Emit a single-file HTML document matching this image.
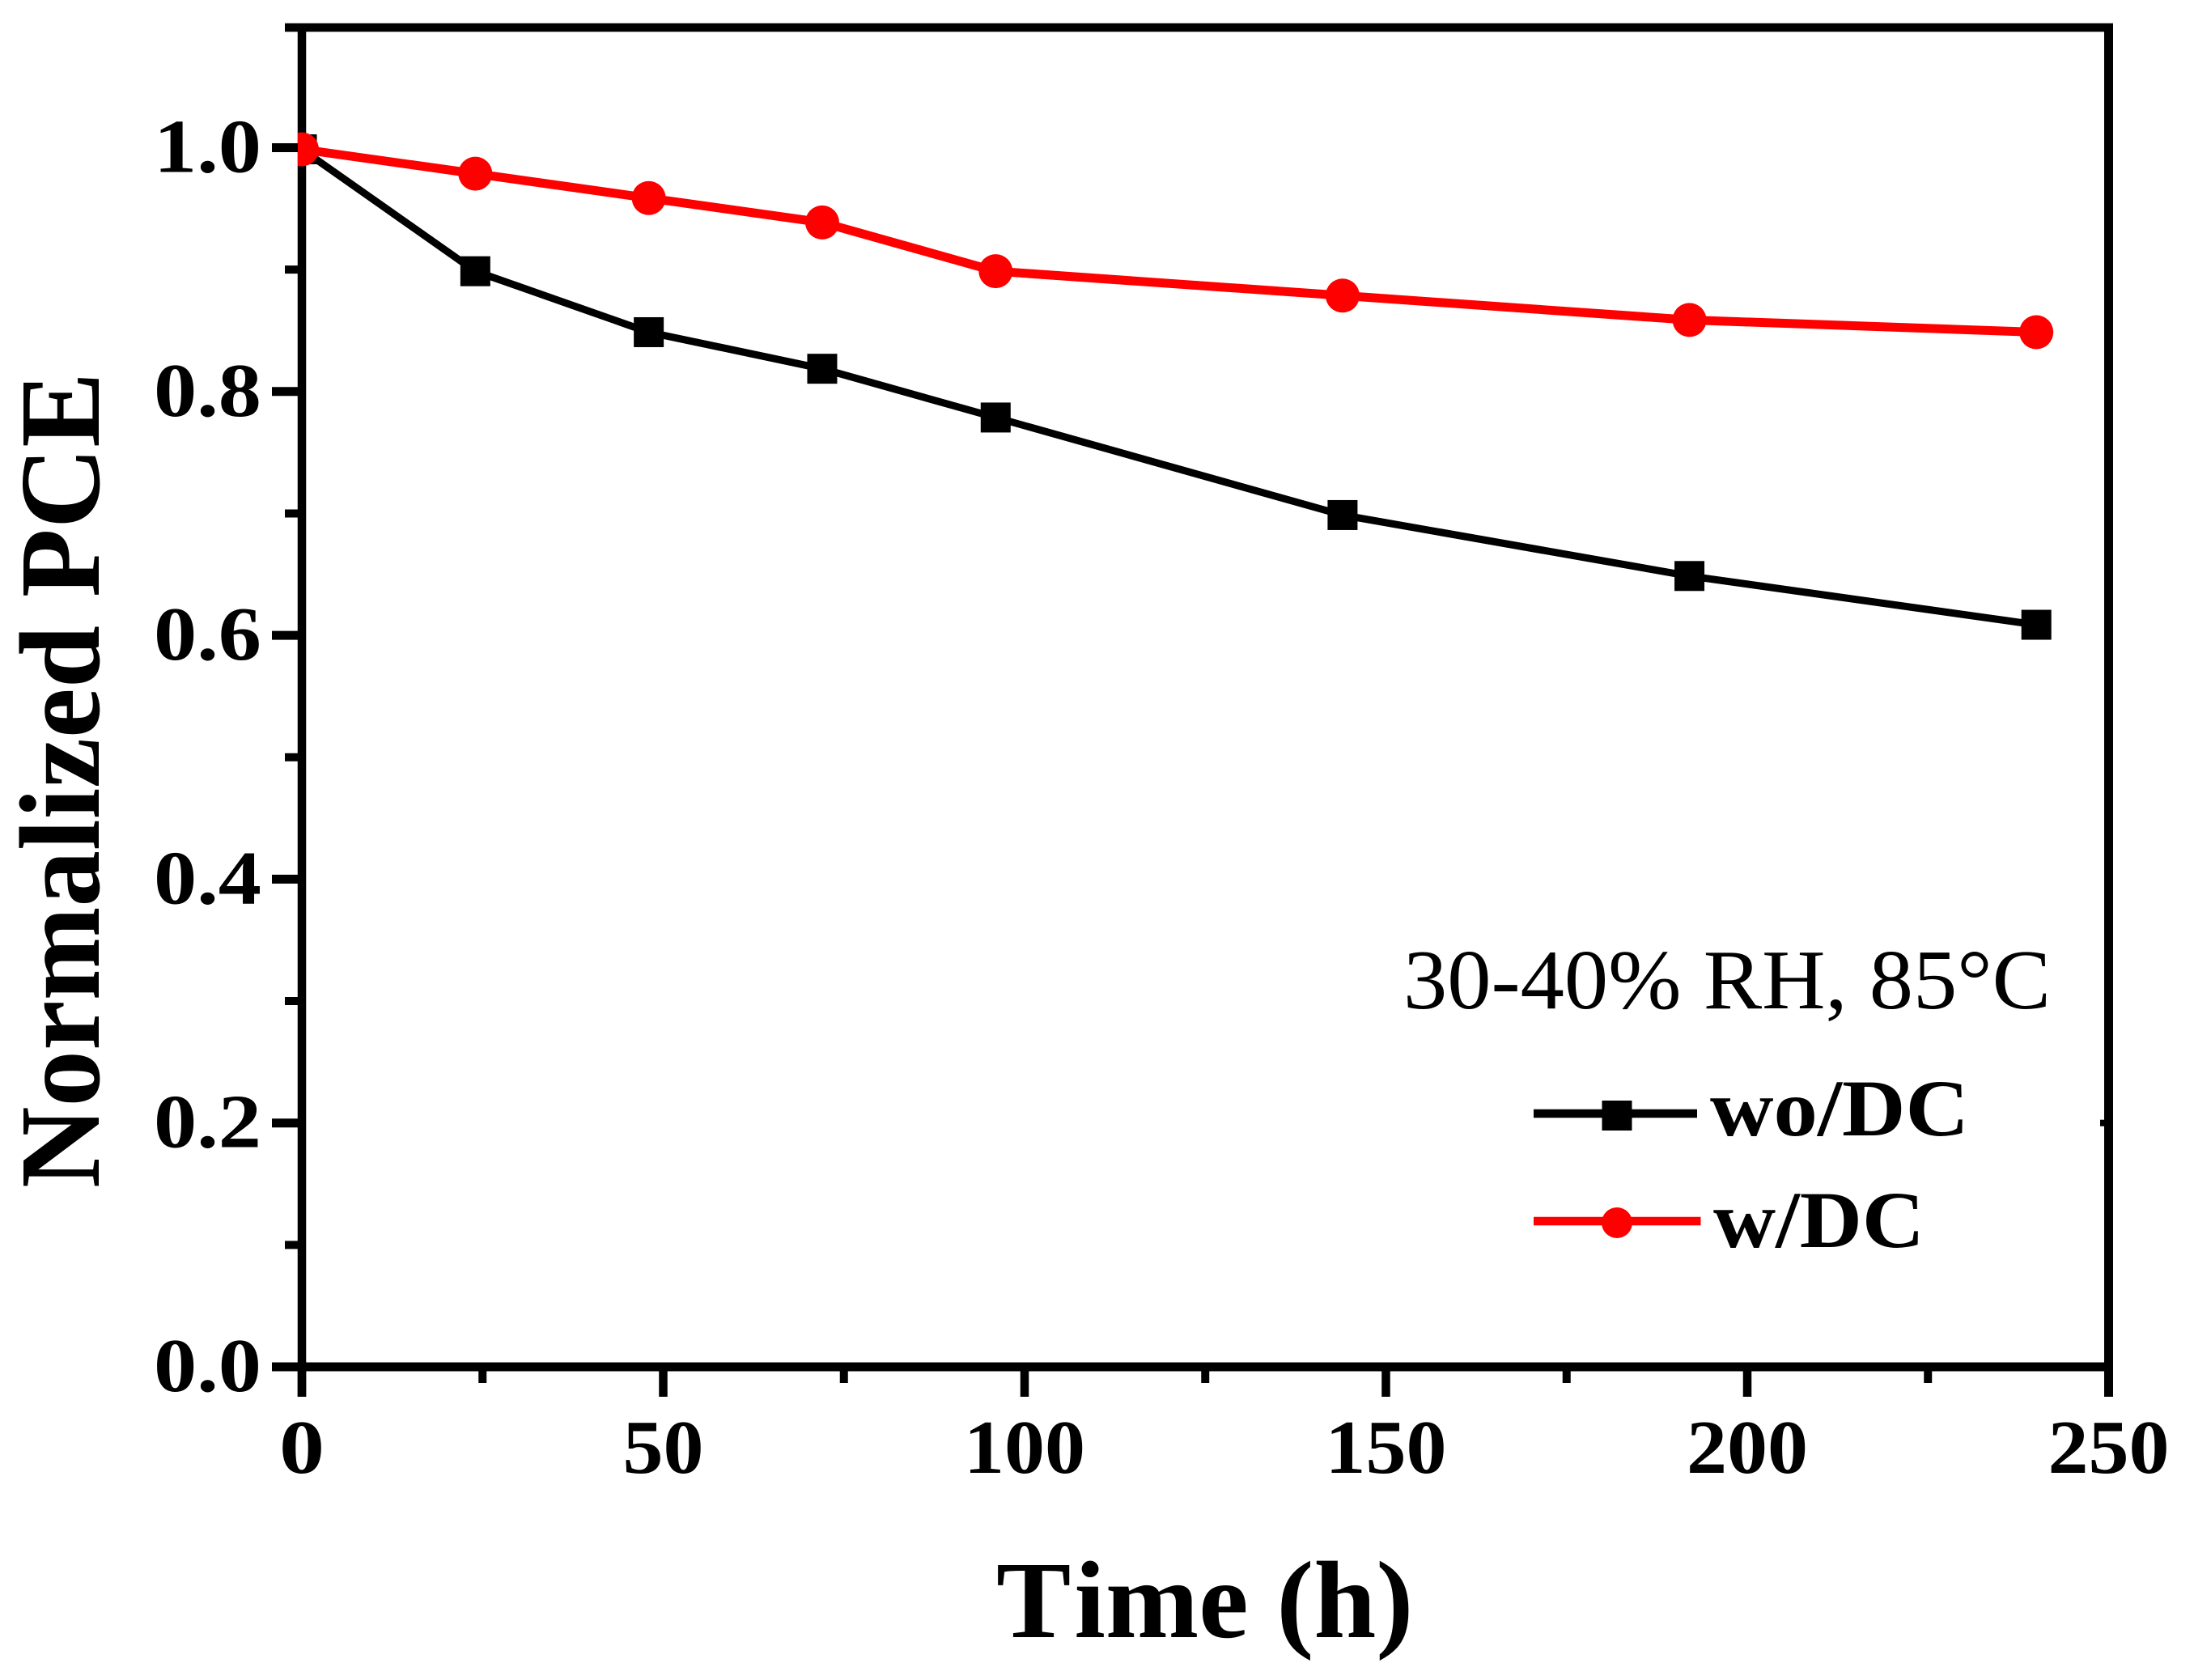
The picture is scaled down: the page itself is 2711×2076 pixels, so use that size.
<!DOCTYPE html>
<html lang="en">
<head>
<meta charset="utf-8">
<title>Normalized PCE vs Time</title>
<style>
html,body{margin:0;padding:0;background:#fff}
svg{display:block}
text{font-family:"Liberation Serif",serif;fill:#000;font-kerning:none}
</style>
</head>
<body>
<svg id="chart" xmlns="http://www.w3.org/2000/svg" width="2711" height="2076" viewBox="0 0 2711 2076">
  <defs>
    <clipPath id="plot-clip"><rect x="368" y="0" width="2300" height="2076"/></clipPath>
  </defs>
  <rect x="0" y="0" width="2711" height="2076" fill="#fff"/>
  <g id="axes"></g>
  <g id="series" clip-path="url(#plot-clip)"></g>
  <text transform="translate(122,1468) rotate(-90)" font-size="142" font-weight="bold" textLength="1008" lengthAdjust="spacingAndGlyphs">Normalized PCE</text>
  <text transform="translate(1231,2023) scale(1.018,1)" font-size="136" font-weight="bold"><tspan>T</tspan><tspan dx="4">ime (h)</tspan></text>
  <text x="1734" y="1246" font-size="105" textLength="800" lengthAdjust="spacingAndGlyphs">30-40% RH, 85°C</text>
  <g>
    <g>
      <line x1="1895" y1="1376" x2="2097" y2="1376" stroke="#000" stroke-width="10.5"/>
      <rect x="1979.5" y="1360" width="37" height="37" fill="#000"/>
      <text x="2113" y="1403" font-size="100" font-weight="bold" textLength="320" lengthAdjust="spacingAndGlyphs">wo/DC</text>
    </g>
    <g>
      <line x1="1895" y1="1509" x2="2101.5" y2="1509" stroke="#f00" stroke-width="10.5"/>
      <circle cx="1998" cy="1511" r="19" fill="#f00"/>
      <text x="2117" y="1541" font-size="100" font-weight="bold" textLength="261" lengthAdjust="spacingAndGlyphs">w/DC</text>
    </g>
  </g>
</svg>
<script>
const hours = [0, 24, 48, 72, 96, 144, 192, 240];
const woDcValues = [1.0, 0.9, 0.85, 0.82, 0.78, 0.7, 0.65, 0.61];
const wDcValues = [1.0, 0.98, 0.96, 0.94, 0.9, 0.88, 0.86, 0.85];
const xMajorTicks = [0, 50, 100, 150, 200, 250];
const xMinorTicks = [25, 75, 125, 175, 225];
const yMajorTicks = [0, 0.2, 0.4, 0.6, 0.8, 1.0];
const yMinorTicks = [0.1, 0.3, 0.5, 0.7, 0.9];

const NS = 'http://www.w3.org/2000/svg';
const plot = { left: 373, right: 2605.5, y0: 1689, y1: 182.5, xMax: 250, markShift: 2 };
function xScale(v) { return plot.left + (v / plot.xMax) * (plot.right - plot.left); }
function yScale(v) { return plot.y0 - v * (plot.y0 - plot.y1); }
function yMark(v) { return yScale(v) + plot.markShift; }
function make(tag, parent, props) {
  const el = document.createElementNS(NS, tag);
  for (const k in props) el.setAttribute(k, props[k]);
  parent.appendChild(el);
  return el;
}
const axes = document.getElementById('axes');
const series = document.getElementById('series');

let el = make('line', axes, { x1: 352, y1: 34, x2: 2611, y2: 34, stroke: '#000', 'stroke-width': 10.5 });


el = make('line', axes, { x1: plot.left, y1: 34, x2: plot.left, y2: 1726, stroke: '#000', 'stroke-width': 10.5 });


el = make('line', axes, { x1: plot.right, y1: 34, x2: plot.right, y2: 1726, stroke: '#000', 'stroke-width': 11 });


el = make('line', axes, { x1: 336, y1: plot.y0, x2: plot.right, y2: plot.y0, stroke: '#000', 'stroke-width': 11 });


el = make('line', axes, { x1: 2595, y1: yScale(0.2), x2: plot.right, y2: yScale(0.2), stroke: '#000', 'stroke-width': 8 });



xMajorTicks.forEach(function (t) {
  const tick = make('line', axes, { x1: xScale(t), y1: plot.y0, x2: xScale(t), y2: 1726, stroke: '#000', 'stroke-width': 10.5 });
  
  
  const s = String(t);
  const w = s.length === 1 ? 56 : s.length * 50;
  const label = make('text', axes, { x: xScale(t) - w / 2, y: 1820, 'font-size': 94, 'font-weight': 'bold', textLength: w, lengthAdjust: 'spacingAndGlyphs' });
  label.textContent = s;
  
  
});
xMinorTicks.forEach(function (t) {
  const tick = make('line', axes, { x1: xScale(t), y1: plot.y0, x2: xScale(t), y2: 1709, stroke: '#000', 'stroke-width': 10 });
  
  
});
yMajorTicks.forEach(function (t) {
  const tick = make('line', axes, { x1: 336, y1: yScale(t), x2: plot.left, y2: yScale(t), stroke: '#000', 'stroke-width': 11 });
  
  
  const label = make('text', axes, { x: 190, y: yScale(t) + 30, 'font-size': 94, 'font-weight': 'bold', textLength: 133, lengthAdjust: 'spacingAndGlyphs' });
  label.textContent = t.toFixed(1);
  
  
});
yMinorTicks.forEach(function (t) {
  const tick = make('line', axes, { x1: 352, y1: yScale(t), x2: plot.left, y2: yScale(t), stroke: '#000', 'stroke-width': 10 });
  
  
});

function pointsFor(values) {
  return values.map(function (v, i) { return xScale(hours[i]) + ',' + yMark(v); }).join(' ');
}
const blackLine = make('polyline', series, { points: pointsFor(woDcValues), fill: 'none', stroke: '#000', 'stroke-width': 9 });


woDcValues.forEach(function (v, i) {
  const size = 37;
  const m = make('rect', series, { x: xScale(hours[i]) - size / 2, y: yMark(v) - size / 2, width: size, height: size, fill: '#000' });
  
  
});
const redLine = make('polyline', series, { points: pointsFor(wDcValues), fill: 'none', stroke: '#f00', 'stroke-width': 11 });


wDcValues.forEach(function (v, i) {
  const m = make('circle', series, { cx: xScale(hours[i]), cy: yMark(v), r: 21, fill: '#f00' });
  
  
});
</script>
</body>
</html>
